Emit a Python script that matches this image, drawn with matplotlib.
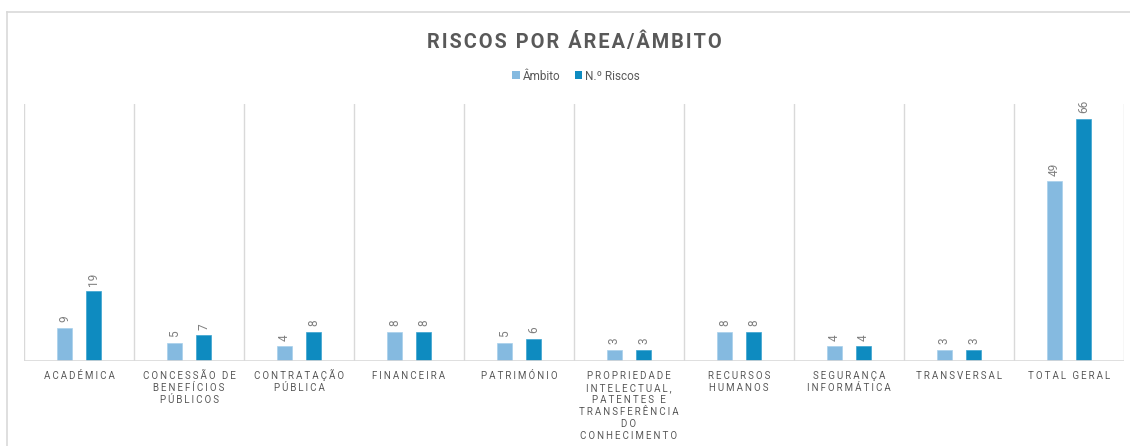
import numpy as np
import matplotlib
matplotlib.use('Agg')
import matplotlib.pyplot as plt
from matplotlib.lines import Line2D
from matplotlib.patches import Patch
from matplotlib.transforms import ScaledTranslation

plt.rcParams['font.family'] = ['Roboto', 'DejaVu Sans']

categories = ['ACADÉMICA', 'CONCESSÃO DE\nBENEFÍCIOS\nPÚBLICOS', 'CONTRATAÇÃO\nPÚBLICA',
              'FINANCEIRA', 'PATRIMÓNIO',
              'PROPRIEDADE\nINTELECTUAL,\nPATENTES E\nTRANSFERÊNCIA\nDO\nCONHECIMENTO',
              'RECURSOS\nHUMANOS', 'SEGURANÇA\nINFORMÁTICA', 'TRANSVERSAL', 'TOTAL GERAL']
ambito = [9, 5, 4, 8, 5, 3, 8, 4, 3, 49]
riscos = [19, 7, 8, 8, 6, 3, 8, 4, 3, 66]
series_names = ['Âmbito', 'N.º Riscos']
colors = ['#85BAE0', '#0E8BC0']

grey = '#595959'
grid_c = '#D9D9D9'


def spaced(s, sep='\u200a'):
    # fake letter spacing
    return '\n'.join(sep.join(list(line)) for line in s.split('\n'))


fig = plt.figure(figsize=(11.3, 4.46), dpi=100)
ax = fig.add_axes([24/1130, 85/446, 1100/1130, 257/446])

x = np.arange(len(categories))
w = 0.136
off = 0.132
b1 = ax.bar(x - off, ambito, w, color=colors[0], edgecolor='#A8D0EC', linewidth=0.5)
b2 = ax.bar(x + off, riscos, w, color=colors[1], edgecolor='#3AA3D0', linewidth=0.5)

for bars, vals in [(b1, ambito), (b2, riscos)]:
    for r, v in zip(bars, vals):
        ax.annotate(str(v), (r.get_x() + r.get_width()/2, v), xytext=(0, 4),
                    textcoords='offset points', rotation=90, ha='center', va='bottom',
                    fontsize=8.5, color='#7F7F7F')

ax.set_xlim(-0.5, len(categories) - 0.5)
ax.set_ylim(0, 70)
for b in np.arange(-0.5, len(categories), 1):
    ax.axvline(b, color=grid_c, lw=1, zorder=0)
ax.axhline(0, color=grid_c, lw=1.2, zorder=1)

for s in ax.spines.values():
    s.set_visible(False)
ax.set_yticks([])
ax.set_xticks(x)
ax.set_xticklabels([spaced(c, '\u200a\u200a') for c in categories], fontsize=7, color=grey,
                   linespacing=1.26, va='top')
ax.tick_params(axis='x', length=0, pad=7)
# the cedilla pushes this one down a little
lab = ax.get_xticklabels()[2]
lab.set_transform(lab.get_transform() + ScaledTranslation(0, 2/100, fig.dpi_scale_trans))

fig.text(574/1130, 1 - 42/446, spaced('RISCOS POR ÁREA/ÂMBITO', '\u200a'),
         ha='center', va='center', fontsize=14.3, fontweight='bold', color=grey)

handles = [Patch(facecolor=c) for c in colors]
fig.legend(handles, series_names, loc='center', bbox_to_anchor=(576/1130, 1 - 76/446),
           ncol=2, frameon=False, fontsize=8.5, labelcolor=grey, handlelength=0.65,
           handleheight=0.65, handletextpad=0.25, columnspacing=1.2)

# outer chart border
fig.add_artist(Line2D([7/1130, 1.01], [1 - 12/446] * 2, color=grid_c, lw=1.2))
fig.add_artist(Line2D([7/1130] * 2, [-0.01, 1 - 12/446], color=grid_c, lw=1.2))

fig.savefig('out.png', dpi=100, facecolor='white')
